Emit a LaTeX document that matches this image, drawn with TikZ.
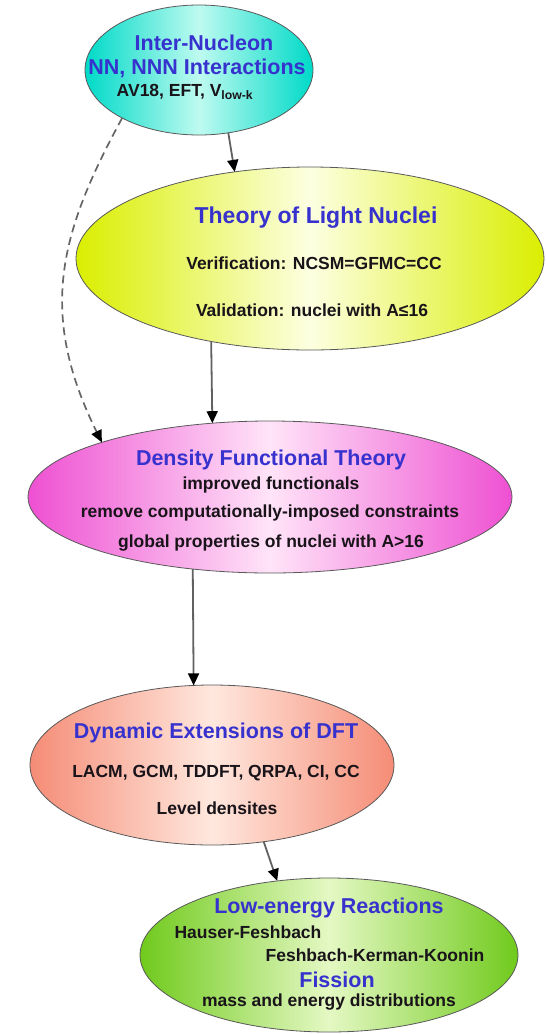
\documentclass[tikz,border=0pt]{standalone}
\usepackage{xcolor}
\usepackage{fontspec}
\setmainfont{Liberation Sans}
\usepackage{tikz}
\usetikzlibrary{shapes.geometric,arrows.meta}

\definecolor{titleblue}{RGB}{55,50,205}
\definecolor{textdark}{RGB}{25,20,25}
\definecolor{cyanOut}{RGB}{0,218,200}
\definecolor{cyanIn}{RGB}{190,250,240}
\definecolor{limeOut}{RGB}{218,238,0}
\definecolor{limeIn}{RGB}{252,255,225}
\definecolor{pinkOut}{RGB}{238,80,210}
\definecolor{pinkIn}{RGB}{255,228,248}
\definecolor{salmonOut}{RGB}{245,140,118}
\definecolor{salmonIn}{RGB}{255,232,222}
\definecolor{greenOut}{RGB}{112,202,28}
\definecolor{greenIn}{RGB}{228,248,195}

\begin{document}
\begin{tikzpicture}[x=1pt,y=-1pt,
    blob/.style={shape=ellipse,draw=black!65,line width=0.8pt,inner sep=0pt,outer sep=0pt},
    title/.style={text=titleblue,font=\fontsize{21.5}{24}\selectfont\bfseries,inner sep=0pt},
    txt/.style={text=textdark,font=\fontsize{17.5}{20}\selectfont\bfseries,inner sep=0pt},
    link/.style={draw=black!62,line width=1.8pt,-{Triangle[length=12pt,width=11pt,color=black]}}]
    \useasboundingbox (0,0) rectangle (546,1034);

    % the five ellipses
    \node[blob,left color=cyanOut,right color=cyanOut,middle color=cyanIn,minimum width=228,minimum height=130] (Inter) at (199,70) {};
    \node[blob,left color=limeOut,right color=limeOut,middle color=limeIn,minimum width=468,minimum height=183] (Light) at (310,258.5) {};
    \node[blob,left color=pinkOut,right color=pinkOut,middle color=pinkIn,minimum width=484,minimum height=152] (DFT) at (270,497) {};
    \node[blob,left color=salmonOut,right color=salmonOut,middle color=salmonIn,minimum width=364,minimum height=160] (Dyn) at (212,765) {};
    \node[blob,left color=greenOut,right color=greenOut,middle color=greenIn,minimum width=378,minimum height=154] (Low) at (329,955) {};

    % texts
    \node[title] (InterT) at (204,43) {Inter-Nucleon};
    \node[title] (InterA) at (197,68) {NN, NNN Interactions};
    \node[txt] (InterB) at (185,92) {AV18, EFT, V\textsubscript{low-k}};

    \node[title,font=\fontsize{23}{26}\selectfont\bfseries] (LightT) at (316,218) {Theory of Light Nuclei};
    \node[txt] (LightA) at (314,263) {Verification: NCSM=GFMC=CC};
    \node[txt] (LightB) at (312,310) {Validation: nuclei with A≤16};

    \node[title] (DFTT) at (271,460) {Density Functional Theory};
    \node[txt] (DFTA) at (271,485) {improved functionals};
    \node[txt] (DFTB) at (270,513) {remove computationally-imposed constraints};
    \node[txt] (DFTC) at (271,543) {global properties of nuclei with A>16};

    \node[title] (DynT) at (216,733) {Dynamic Extensions of DFT};
    \node[txt] (DynA) at (216,773) {LACM, GCM, TDDFT, QRPA, CI, CC};
    \node[txt] (DynB) at (217,808) {Level densites};

    \node[title] (LowT) at (329,908) {Low-energy Reactions};
    \node[txt] (LowA) at (248,932) {Hauser-Feshbach};
    \node[txt] (LowB) at (375,955) {Feshbach-Kerman-Koonin};
    \node[title] (LowC) at (337,980) {Fission};
    \node[txt] (LowD) at (329,1002) {mass and energy distributions};

    % arrows
    \draw[link] (Inter.295) -- (Light.131);
    \draw[link] (Light.220.3) -- (DFT.128.2);
    \draw[link] (DFT.223.1) -- (Dyn.103.4);
    \draw[link] (Dyn.304.7) -- (Low.125.1);
    \draw[link,draw=black!60,line width=1.7pt,dash pattern=on 8pt off 5pt] (Inter.212) .. controls (59,234) and (38,313) .. (DFT.162.4);
\end{tikzpicture}
\end{document}
